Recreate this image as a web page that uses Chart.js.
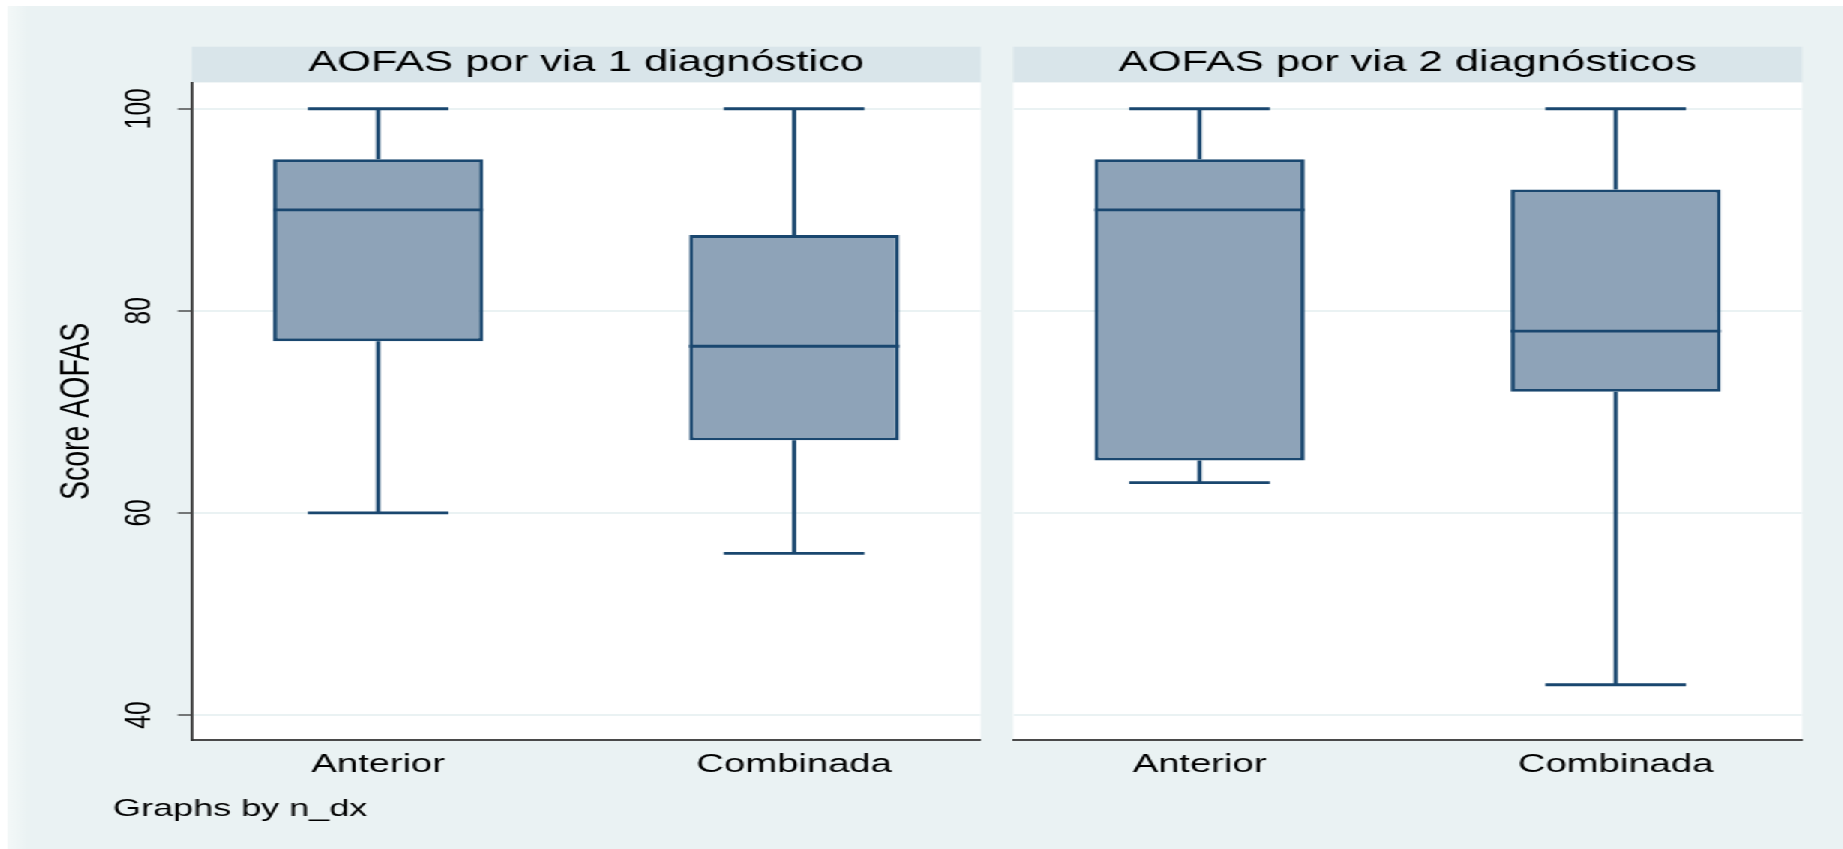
<!DOCTYPE html>
<html>
<head>
<meta charset="utf-8">
<title>AOFAS por via</title>
<script src="https://cdn.jsdelivr.net/npm/chart.js@4.4.1/dist/chart.umd.min.js"></script>
<style>
  html, body { margin: 0; padding: 0; background: #ffffff; overflow: hidden; }
  /* the graph is laid out on a narrower stage and widened horizontally */
  #stage { position: relative; width: 1229px; height: 849px; transform: scaleX(1.5); transform-origin: 0 0; }
  #backdrop { position: absolute; left: 4.7px; top: 6px; right: 0; bottom: 0;
              background: linear-gradient(to right, #f3f8f8 0px, #eaf2f3 14px); }
  #panel1 { position: absolute; left: 0; top: 0; }
  #panel2 { position: absolute; left: 662px; top: 0; }
</style>
</head>
<body>
<div id="stage">
  <div id="backdrop"></div>
  <canvas id="panel1" width="660" height="849"></canvas>
  <canvas id="panel2" width="560" height="849"></canvas>
</div>
<script>
// ---- data ----------------------------------------------------------
const categories = ['Anterior', 'Combinada'];
const panelTitles = ['AOFAS por via 1 diagnóstico', 'AOFAS por via 2 diagnósticos'];
const yTicks = [40, 60, 80, 100];
const yTitle = 'Score AOFAS';
const footnote = 'Graphs by n_dx';

// one diagnosis
const dx1Min    = [60, 56];
const dx1Q1     = [77, 67.2];
const dx1Median = [90, 76.5];
const dx1Q3     = [95, 87.5];
const dx1Max    = [100, 100];

// two diagnoses
const dx2Min    = [63, 43];
const dx2Q1     = [65.2, 72];
const dx2Median = [90, 78];
const dx2Q3     = [95, 92];
const dx2Max    = [100, 100];

// ---- styling -------------------------------------------------------
const FONT = '"Liberation Sans", Arial, Helvetica, sans-serif';
const NAVY = '#1a476f';
const BOX_FILL = '#8ea3b8';
const STRIP = '#d9e5ea';
const GRID = '#eaf2f3';
const AXIS = '#333333';
const LINE_W = 2.8;
const BOX_HALF = 0.2525;   // half box width, in category units
const CAP_HALF = 0.169;    // half whisker-cap width, in category units
const STRIP_TOP = 46.7;

// line pieces separated by gaps so one dataset can hold many segments
function segments(pairs) {
  const out = [];
  pairs.forEach(([a, b]) => { out.push(a, b, { x: a.x, y: null }); });
  return out;
}

function boxDatasets(mn, q1, med, q3, mx) {
  const whiskerPairs = [];
  const medianPairs = [];
  categories.forEach((c, i) => {
    whiskerPairs.push([{ x: i, y: q3[i] }, { x: i, y: mx[i] }]);
    whiskerPairs.push([{ x: i, y: mn[i] }, { x: i, y: q1[i] }]);
    whiskerPairs.push([{ x: i - CAP_HALF, y: mx[i] }, { x: i + CAP_HALF, y: mx[i] }]);
    whiskerPairs.push([{ x: i - CAP_HALF, y: mn[i] }, { x: i + CAP_HALF, y: mn[i] }]);
    medianPairs.push([{ x: i - BOX_HALF, y: med[i] }, { x: i + BOX_HALF, y: med[i] }]);
  });
  const lineStyle = {
    type: 'line', borderColor: NAVY, borderWidth: LINE_W, pointRadius: 0,
    pointHoverRadius: 0, fill: false, tension: 0, spanGaps: false, borderCapStyle: 'butt'
  };
  return [
    Object.assign({ label: 'whiskers', data: segments(whiskerPairs), order: 3 }, lineStyle),
    {
      type: 'bar', label: 'box',
      data: categories.map((c, i) => ({ x: i, y: [q1[i], q3[i]] })),
      backgroundColor: BOX_FILL, borderColor: NAVY, borderWidth: LINE_W,
      borderSkipped: false, categoryPercentage: 1, barPercentage: 2 * BOX_HALF,
      order: 2
    },
    Object.assign({ label: 'median', data: segments(medianPairs), order: 1 }, lineStyle)
  ];
}

// strip behind the panel title and white plot region
const panelBackground = {
  id: 'panelBackground',
  beforeDraw(chart) {
    const { ctx, chartArea: a } = chart;
    ctx.save();
    ctx.fillStyle = STRIP;
    ctx.fillRect(a.left, STRIP_TOP, a.right - a.left, a.top - STRIP_TOP);
    ctx.fillStyle = '#ffffff';
    ctx.fillRect(a.left, a.top, a.right - a.left, a.bottom - a.top);
    ctx.restore();
  }
};

const footnotePlugin = {
  id: 'footnote',
  afterDraw(chart) {
    const ctx = chart.ctx;
    ctx.save();
    ctx.font = '24px ' + FONT;
    ctx.fillStyle = '#000000';
    ctx.textBaseline = 'alphabetic';
    ctx.textAlign = 'left';
    ctx.fillText(footnote, 75.3, 815.5);
    ctx.restore();
  }
};

function makePanel(canvasId, k, datasets, showY, yWidth, rightPad, extraPlugins) {
  return new Chart(document.getElementById(canvasId), {
    type: 'bar',
    data: { datasets },
    options: {
      responsive: false,
      maintainAspectRatio: false,
      devicePixelRatio: 1,
      animation: false,
      events: [],
      layout: { padding: { left: 0, right: rightPad, top: 0, bottom: 0 } },
      plugins: {
        legend: { display: false },
        tooltip: { enabled: false },
        title: {
          display: true, text: panelTitles[k], fullSize: false, color: '#000000',
          font: { family: FONT, size: 29, weight: 'normal', lineHeight: 1.2 },
          padding: { top: 45.9, bottom: 1.8 }
        }
      },
      scales: {
        x: {
          type: 'linear', min: -0.448, max: 1.448, offset: false,
          afterBuildTicks: s => { s.ticks = categories.map((c, i) => ({ value: i })); },
          ticks: {
            callback: v => categories[v], color: '#000000', padding: 9.5,
            maxRotation: 0, autoSkip: false,
            font: { family: FONT, size: 25.5, lineHeight: 1.2 }
          },
          grid: { display: false, drawTicks: false },
          border: { display: true, color: '#4a4a4a', width: 2 },
          afterFit: s => { s.height = 108.7; }
        },
        y: {
          type: 'linear', min: 37.5, max: 102.6,
          afterBuildTicks: s => { s.ticks = yTicks.map(v => ({ value: v })); },
          ticks: {
            display: showY, color: '#000000', minRotation: 90, maxRotation: 90,
            crossAlign: 'center', padding: 4.4,
            font: { family: FONT, size: 24.5 }
          },
          grid: {
            color: GRID, lineWidth: 2, drawTicks: showY, tickLength: 9.3,
            tickColor: AXIS, tickWidth: 1.3
          },
          border: { display: showY, color: AXIS, width: 1.8 },
          title: {
            display: showY, text: yTitle, color: '#000000',
            font: { family: FONT, size: 28.5, lineHeight: 1.2 },
            padding: { top: 34, bottom: 0 }
          },
          afterFit: s => { s.width = yWidth; }
        }
      }
    },
    plugins: [panelBackground].concat(extraPlugins)
  });
}

makePanel('panel1', 0, boxDatasets(dx1Min, dx1Q1, dx1Median, dx1Q3, dx1Max), true, 127.8, 6.2, [footnotePlugin]);
makePanel('panel2', 1, boxDatasets(dx2Min, dx2Q1, dx2Median, dx2Q3, dx2Max), false, 13.5, 20.5, []);
</script>
</body>
</html>
